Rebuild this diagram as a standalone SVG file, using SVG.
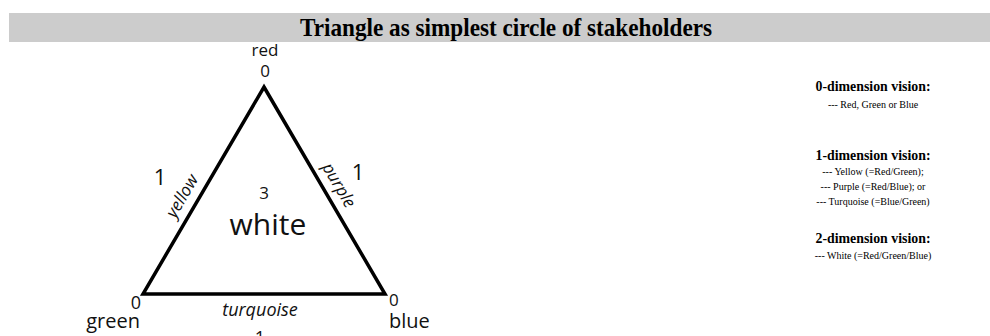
<svg xmlns="http://www.w3.org/2000/svg" width="990" height="336" viewBox="0 0 990 336">
<style>
.lbl{font-family:"Open Sans","Noto Sans",sans-serif;fill:#111}
.it{font-style:italic}
.hd{font-family:"Liberation Serif","Times New Roman",serif;font-weight:bold;fill:#000;text-anchor:middle}
.tx{font-family:"Liberation Serif","Times New Roman",serif;fill:#000;text-anchor:middle}
</style>
<rect x="0" y="0" width="990" height="336" fill="#fff"/>
<g id="title">
<rect x="9" y="13" width="981" height="29" fill="#cccccc"/>
<text x="506" y="36" class="hd" font-size="25" textLength="412" lengthAdjust="spacingAndGlyphs">Triangle as simplest circle of stakeholders</text>
</g>
<g id="connectors">
<polygon points="264,87 385,294 143,294" fill="none" stroke="#000" stroke-width="3.5" stroke-linejoin="miter"/>
</g>
<g id="node-red">
<text x="265" y="56" class="lbl" font-size="17" text-anchor="middle">red</text>
<text x="265" y="77" class="lbl" font-size="17" text-anchor="middle">0</text>
</g>
<g id="node-green">
<text x="141" y="309" class="lbl" font-size="18" text-anchor="end">0</text>
<text x="140" y="328" class="lbl" font-size="20" text-anchor="end">green</text>
</g>
<g id="node-blue">
<text x="389" y="306" class="lbl" font-size="17">0</text>
<text x="389" y="328" class="lbl" font-size="20">blue</text>
</g>
<g id="edge-yellow">
<text x="160" y="185" class="lbl" font-size="22" text-anchor="middle">1</text>
<text class="lbl it" font-size="17" text-anchor="middle" transform="translate(187,199) rotate(-59.7)">yellow</text>
</g>
<g id="edge-purple">
<text x="358" y="180" class="lbl" font-size="22" text-anchor="middle">1</text>
<text class="lbl it" font-size="17" text-anchor="middle" transform="translate(334,188) rotate(59.7)">purple</text>
</g>
<g id="edge-turquoise">
<text x="260" y="316" class="lbl it" font-size="18" text-anchor="middle">turquoise</text>
<text x="260" y="344" class="lbl" font-size="18" text-anchor="middle">1</text>
</g>
<g id="center-white">
<text x="264" y="199" class="lbl" font-size="17" text-anchor="middle">3</text>
<text x="268" y="235" class="lbl" font-size="30" text-anchor="middle">white</text>
</g>
<g id="legend">
<text x="873" y="91" class="hd" font-size="15" textLength="115" lengthAdjust="spacingAndGlyphs">0-dimension vision:</text>
<text x="873" y="108" class="tx" font-size="10">--- Red, Green or Blue</text>
<text x="873" y="160" class="hd" font-size="15" textLength="115" lengthAdjust="spacingAndGlyphs">1-dimension vision:</text>
<text x="873" y="175" class="tx" font-size="10">--- Yellow (=Red/Green);</text>
<text x="873" y="190" class="tx" font-size="10">--- Purple (=Red/Blue); or</text>
<text x="873" y="205" class="tx" font-size="10">--- Turquoise (=Blue/Green)</text>
<text x="873" y="243" class="hd" font-size="15" textLength="115" lengthAdjust="spacingAndGlyphs">2-dimension vision:</text>
<text x="873" y="259" class="tx" font-size="10">--- White (=Red/Green/Blue)</text>
</g>
</svg>
